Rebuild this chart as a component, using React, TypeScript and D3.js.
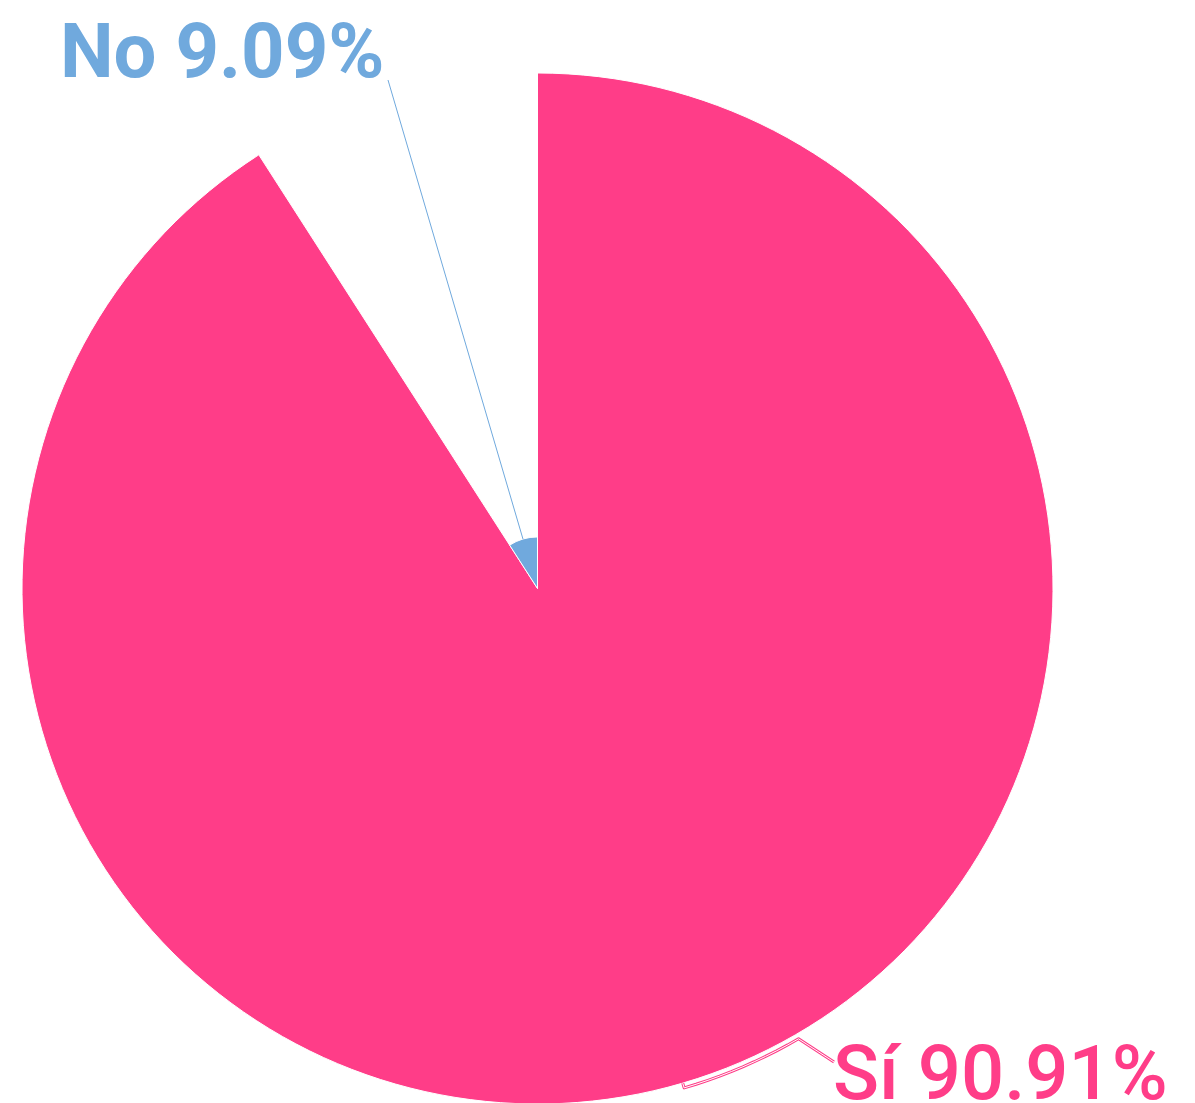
import React from "react";
import * as d3 from "d3";

const categories = ["Sí", "No"];
const values = [10, 1];
const percentLabels = ["90.91%", "9.09%"];
const colors = ["#ff3d88", "#70a9dd"];

const W = 1195;
const H = 1103;
const cx = 537.5;
const cy = 588.5;
const R = 515.5;

export default function App() {
  const pie = d3
    .pie<number>()
    .sort(null)
    .startAngle(0)
    .endAngle(Math.PI * 2)
    .value((d) => d);
  const arcs = pie(values);
  const rScale = d3.scaleLinear().domain([0, d3.max(values) as number]).range([0, R]);
  const arcGen = d3.arc<any>().innerRadius(0);

  const pt = (angle: number, r: number): [number, number] => [
    Math.sin(angle) * r,
    -Math.cos(angle) * r,
  ];

  // Sí label line
  const si = arcs[0];
  const siMid = (si.startAngle + si.endAngle) / 2;
  const siR = rScale(si.data);
  const siA = pt(siMid, siR);
  const siB = pt(siMid, siR + 5);
  const bendAngle = (149.9 * Math.PI) / 180;
  const arcPts: [number, number][] = d3.range(0, 11).map((i) =>
    pt(siMid + ((bendAngle - siMid) * i) / 10, siR + 5)
  );
  const siEnd: [number, number] = [834 - cx, 1062 - cy];
  const siLinePts: [number, number][] = [siA, siB, ...arcPts, siEnd];
  const siLine = d3.line()(siLinePts) as string;

  // No label line
  const no = arcs[1];
  const noMid = (no.startAngle + no.endAngle) / 2;
  const noR = rScale(no.data);
  const noA = pt(noMid, noR);
  const noEnd: [number, number] = [388 - cx, 80 - cy];

  return (
    <svg
      width={W}
      height={H}
      style={{ position: "absolute", left: 0, top: 0, display: "block", background: "#fff" }}
      fontFamily="Roboto, 'Noto Sans', sans-serif"
    >
      <g transform={`translate(${cx},${cy})`}>
        {arcs.map((a, i) => (
          <path
            key={categories[i]}
            d={arcGen.outerRadius(rScale(a.data))(a) as string}
            fill={colors[i]}
            stroke="#fff"
            strokeWidth={1}
          />
        ))}
        <path d={siLine} fill="none" stroke={colors[0]} strokeWidth={3} strokeLinejoin="round" />
        <path d={siLine} fill="none" stroke="#fff" strokeWidth={1} strokeLinejoin="round" />
        <line x1={noA[0]} y1={noA[1]} x2={noEnd[0]} y2={noEnd[1]} stroke={colors[1]} strokeWidth={1} />
      </g>
      <text x={60} y={77} fill={colors[1]} fontSize={76} fontWeight={700}>
        {`${categories[1]} ${percentLabels[1]}`}
      </text>
      <text x={833} y={1099} fill={colors[0]} fontSize={76} fontWeight={500}>
        {`${categories[0]} ${percentLabels[0]}`}
      </text>
    </svg>
  );
}
